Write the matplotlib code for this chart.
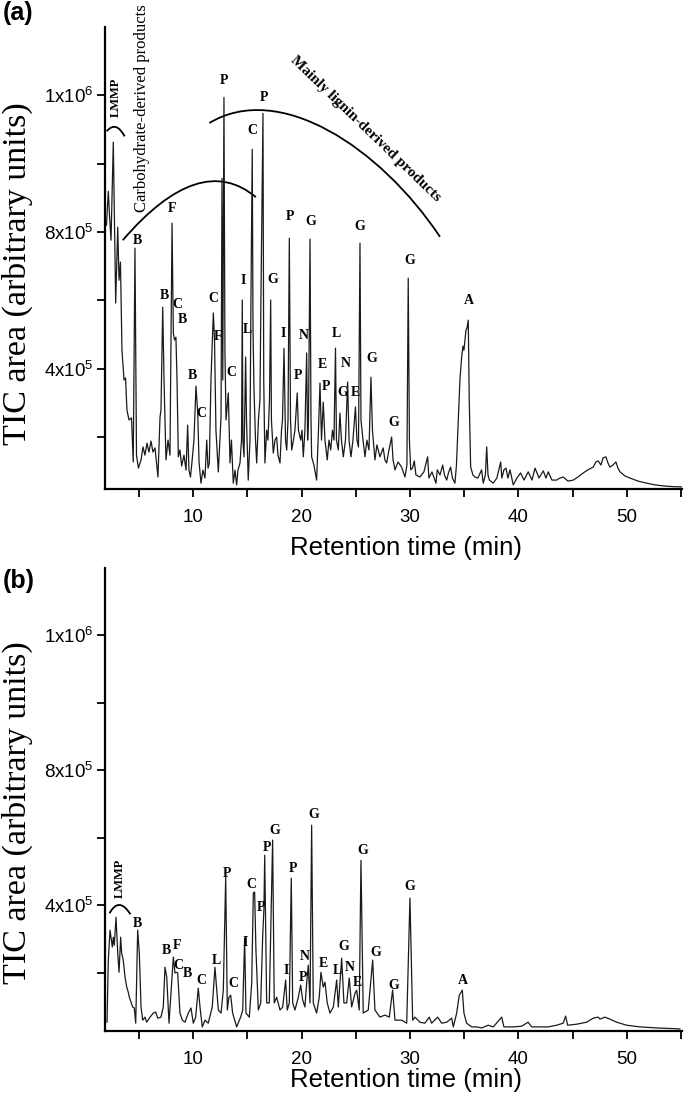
import numpy as np
import matplotlib
matplotlib.use("Agg")
import matplotlib.pyplot as plt
from matplotlib.path import Path
from matplotlib.patches import PathPatch

SANS = "Liberation Sans"
SERIF = "Liberation Serif"
plt.rcParams["font.family"] = [SANS, "DejaVu Sans"]
plt.rcParams["mathtext.fontset"] = "custom"
plt.rcParams["mathtext.rm"] = SANS
plt.rcParams["mathtext.default"] = "regular"

# ---------------- data (retention time in min, TIC area in units of 1e5) ----------------
top_time = [1.99, 2.16, 2.27, 2.41, 2.62, 2.84, 3.03, 3.15, 3.28, 3.42, 3.61, 3.75, 3.88, 4.07, 4.30, 4.46,
            4.62, 4.76, 4.94, 5.18, 5.36, 5.54, 5.73, 5.91, 6.10, 6.28, 6.47, 6.74, 6.93, 7.02, 7.18, 7.30,
            7.48, 7.67, 7.85, 8.04, 8.16, 8.27, 8.40, 8.50, 8.62, 8.77, 8.93, 9.14, 9.33, 9.48, 9.60, 9.74,
            9.88, 10.06, 10.25, 10.41, 10.53, 10.71, 10.89, 11.08, 11.24, 11.36, 11.48, 11.63, 11.85, 11.96,
            12.09, 12.31, 12.46, 12.56, 12.65, 12.72, 12.83, 12.92, 13.02, 13.23, 13.39, 13.52, 13.69, 13.85,
            14.00, 14.12, 14.31, 14.45, 14.52, 14.58, 14.68, 14.83, 14.91, 15.07, 15.23, 15.32, 15.44, 15.51,
            15.60, 15.74, 15.85, 16.01, 16.15, 16.24, 16.43, 16.50, 16.61, 16.77, 16.89, 17.03, 17.14, 17.21,
            17.38, 17.54, 17.69, 17.81, 18.00, 18.14, 18.23, 18.37, 18.51, 18.62, 18.74, 18.86, 18.97, 19.08,
            19.24, 19.38, 19.59, 19.70, 19.91, 20.03, 20.15, 20.30, 20.46, 20.55, 20.63, 20.77, 20.86, 20.92,
            21.13, 21.38, 21.55, 21.69, 21.83, 21.99, 22.15, 22.36, 22.52, 22.68, 22.84, 22.98, 23.12, 23.21,
            23.38, 23.53, 23.67, 23.84, 24.04, 24.24, 24.37, 24.55, 24.73, 24.96, 25.10, 25.24, 25.38, 25.47,
            25.66, 25.84, 26.02, 26.21, 26.39, 26.53, 26.76, 26.94, 27.22, 27.52, 27.68, 27.84, 28.05, 28.30,
            28.43, 28.61, 28.89, 29.22, 29.53, 29.71, 29.83, 29.94, 30.06, 30.22, 30.39, 30.54, 30.91, 31.28,
            31.62, 31.74, 32.02, 32.39, 32.51, 32.76, 33.01, 33.17, 33.38, 33.54, 33.74, 33.91, 34.14, 34.28,
            34.45, 34.60, 34.76, 34.88, 34.97, 35.16, 35.25, 35.37, 35.46, 35.59, 35.80, 35.99, 36.26, 36.60,
            36.75, 36.95, 37.07, 37.19, 37.32, 37.67, 38.01, 38.36, 38.47, 38.66, 38.85, 39.03, 39.22, 39.52,
            39.86, 40.20, 40.51, 40.90, 41.25, 41.53, 41.90, 42.29, 42.54, 42.75, 43.09, 43.52, 43.83, 44.13,
            44.57, 45.06, 45.49, 45.98, 46.41, 46.90, 47.15, 47.36, 47.61, 47.80, 48.07, 48.26, 48.44, 48.72,
            48.99, 49.18, 49.37, 49.83, 50.29, 51.03, 51.83, 52.59, 53.36, 54.16, 55.05]
top_signal_e5 = [8.20, 9.19, 8.49, 7.76, 10.63, 5.92, 8.14, 6.59, 7.12, 4.54, 3.67, 3.73, 2.79, 2.50, 2.56, 1.27,
                 7.53, 1.47, 1.09, 1.33, 1.71, 1.47, 1.82, 1.56, 1.88, 1.56, 1.68, 0.83, 2.58, 2.79, 5.80, 3.67,
                 1.33, 1.91, 1.47, 8.26, 5.04, 4.84, 4.92, 3.67, 1.42, 1.62, 1.15, 1.47, 1.03, 2.35, 1.03, 0.83,
                 1.27, 1.91, 3.49, 2.70, 1.27, 0.65, 1.03, 0.80, 1.91, 1.09, 1.24, 3.67, 5.63, 4.84,
                 2.20, 0.98, 1.91, 2.58, 9.57, 3.67, 11.94, 4.54, 2.50, 3.29, 1.24, 1.91, 0.65, 1.03,
                 0.60, 1.03, 1.24, 1.91, 6.01, 1.91, 1.42, 4.34, 2.50, 0.74, 1.91, 6.01, 10.42, 5.13,
                 3.43, 1.91, 1.24, 2.50, 3.08, 6.01, 11.47, 3.67, 1.24, 2.20, 1.91, 3.08, 6.01, 2.50,
                 1.53, 1.91, 2.00, 1.47, 1.24, 2.20, 2.50, 4.60, 1.91, 1.62, 2.50, 7.82, 2.50, 1.62,
                 1.91, 2.20, 3.29, 2.20, 1.91, 2.20, 1.42, 2.20, 4.46, 1.91, 2.50, 7.79, 2.50, 1.42,
                 1.18, 0.74, 2.20, 3.58, 1.91, 3.02, 1.91, 1.33, 1.91, 1.62, 2.20, 1.91, 4.60, 1.91,
                 1.62, 2.70, 1.91, 1.42, 1.91, 3.61, 1.91, 1.42, 1.91, 2.88, 1.91, 1.71, 7.67, 2.50,
                 1.91, 1.42, 1.91, 1.62, 3.75, 2.20, 1.33, 1.77, 1.42, 1.68, 1.33, 1.24, 1.62, 2.00,
                 1.33, 1.04, 1.27, 1.12, 0.83, 1.18, 6.65, 1.91, 1.04, 1.09, 1.30, 0.89, 0.83, 0.98,
                 1.42, 0.80, 0.98, 0.65, 1.04, 0.89, 1.18, 0.89, 0.74, 0.95, 1.12, 0.80, 0.65, 1.18,
                 2.50, 3.67, 4.34, 4.66, 4.54, 5.13, 5.19, 5.42, 3.08, 1.12, 0.89, 0.83, 0.80, 1.04,
                 0.65, 0.89, 1.71, 0.89, 0.74, 0.65, 0.80, 1.27, 0.80, 1.04, 1.09, 0.80, 1.04, 0.60,
                 0.80, 0.95, 0.74, 0.98, 0.74, 1.09, 0.80, 1.01, 0.80, 0.98, 0.74, 0.74, 0.80, 0.83,
                 0.71, 0.74, 0.83, 0.95, 1.04, 1.12, 1.27, 1.30, 1.18, 1.39, 1.42, 1.24, 1.12, 1.18,
                 1.27, 1.09, 0.98, 0.86, 0.80, 0.71, 0.65, 0.60, 0.57, 0.55, 0.54]

bottom_time = [2.04, 2.16, 2.32, 2.53, 2.62, 2.71, 2.87, 3.03, 3.15, 3.30, 3.39, 3.54, 3.70, 3.86, 4.00, 4.10,
               4.25, 4.41, 4.56, 4.69, 4.87, 5.02, 5.18, 5.33, 5.54, 5.70, 6.01, 6.31, 6.53, 6.72, 7.02, 7.23,
               7.39, 7.55, 7.76, 8.16, 8.31, 8.47, 8.56, 8.77, 8.99, 9.23, 9.54, 9.79, 10.00, 10.22, 10.46,
               10.62, 10.83, 11.08, 11.38, 11.75, 11.94, 12.00, 12.31, 12.56, 12.77, 12.99, 13.14, 13.29,
               13.45, 13.63, 14.00, 14.37, 14.56, 14.74, 14.86, 15.17, 15.39, 15.54, 15.66, 15.78, 16.00,
               16.22, 16.40, 16.52, 16.59, 16.77, 17.01, 17.32, 17.47, 17.69, 18.00, 18.25, 18.52, 18.67,
               18.86, 19.04, 19.17, 19.38, 19.69, 19.91, 20.09, 20.30, 20.46, 20.61, 20.77, 20.92, 21.07,
               21.38, 21.62, 21.78, 21.99, 22.15, 22.36, 22.61, 22.92, 23.23, 23.38, 23.69, 23.90, 24.15,
               24.39, 24.61, 24.92, 25.07, 25.31, 25.47, 25.68, 26.14, 26.55, 26.76, 27.22, 27.68, 28.08,
               28.39, 28.61, 29.22, 29.69, 29.99, 30.24, 30.45, 30.91, 31.37, 31.77, 31.99, 32.55, 32.92,
               33.38, 33.84, 33.99, 34.30, 34.54, 34.82, 34.97, 35.22, 35.68, 36.14, 36.61, 37.21, 37.68,
               38.45, 38.66, 39.52, 40.29, 40.90, 41.22, 41.98, 42.75, 43.52, 44.13, 44.35, 44.54, 45.37,
               46.29, 46.90, 47.36, 47.52, 47.98, 48.44, 49.06, 49.98, 51.21, 52.75, 54.90]
bottom_signal_e5 = [0.53, 2.37, 3.26, 2.76, 3.05, 2.81, 3.64, 2.58, 2.01, 3.05, 2.58, 2.37, 1.87, 1.57, 1.42, 1.27,
                    1.13, 0.98, 0.95, 0.50, 3.26, 2.58, 0.98, 0.59, 0.68, 0.53, 0.68, 0.80, 0.83, 0.65, 0.68, 0.98,
                    2.16, 1.87, 0.50, 2.46, 1.99, 2.01, 1.99, 0.80, 0.59, 0.53, 0.80, 0.95, 0.50, 0.68, 1.54,
                    0.98, 0.39, 0.59, 0.50, 0.98, 1.87, 2.16, 0.89, 0.80, 1.48, 4.83, 0.89, 1.27,
                    1.33, 0.80, 0.39, 0.68, 0.89, 3.02, 0.80, 0.68, 1.69, 4.36, 4.39, 2.67, 0.89,
                    1.10, 3.05, 3.91, 5.48, 1.10, 1.10, 5.93, 1.10, 1.27, 0.89, 0.98, 1.78, 0.89,
                    1.10, 4.80, 1.10, 0.89, 1.27, 1.63, 1.19, 0.98, 1.69, 2.22, 1.10, 6.37, 1.10,
                    0.80, 1.27, 2.01, 1.57, 1.72, 1.10, 0.80, 0.98, 1.78, 0.98, 2.43, 1.10, 1.10,
                    1.84, 0.98, 1.39, 1.48, 0.89, 5.33, 0.80, 0.89, 2.37, 0.89, 0.68, 0.74, 0.68,
                    1.48, 0.59, 0.59, 0.50, 4.21, 0.59, 0.68, 0.53, 0.50, 0.68, 0.50, 0.68, 0.50,
                    0.53, 0.65, 0.39, 0.80, 1.33, 1.48, 0.80, 0.50, 0.39, 0.39, 0.36, 0.44, 0.39,
                    0.68, 0.39, 0.39, 0.41, 0.53, 0.39, 0.39, 0.39, 0.44, 0.50, 0.71, 0.44, 0.47,
                    0.53, 0.65, 0.68, 0.62, 0.68, 0.62, 0.53, 0.44, 0.39, 0.36, 0.33]

# peak identification letters
top_peak_text = ["B", "F", "P", "C", "P", "P", "G", "G", "G", "B", "C", "B", "C", "F", "C", "B", "C",
                 "I", "L", "G", "I", "N", "P", "E", "L", "N", "P", "G", "E", "G", "G", "A"]
top_peak_t = [4.87, 8.01, 12.83, 15.44, 16.55, 18.92, 20.83, 25.38, 29.93, 7.32, 8.56, 9.02, 11.85, 12.31,
              13.54, 9.94, 10.77, 14.61, 14.98, 17.29, 18.30, 20.15, 19.69, 21.90, 23.23, 24.09, 22.24,
              23.75, 24.92, 26.46, 28.45, 35.46]
top_peak_v_e5 = [7.76, 8.70, 12.42, 10.98, 11.93, 8.44, 8.30, 8.15, 7.18, 6.15, 5.88, 5.44, 6.06, 4.95,
                 3.88, 3.81, 2.69, 6.59, 5.15, 6.61, 5.03, 4.98, 3.81, 4.11, 5.03, 4.15, 3.49, 3.30, 3.30,
                 4.30, 2.43, 6.01]

bottom_peak_text = ["B", "B", "F", "C", "B", "C", "L", "P", "C", "I", "C", "P", "P", "G", "P", "I", "P",
                    "N", "G", "E", "L", "G", "N", "E", "G", "G", "G", "G", "A"]
bottom_peak_t = [4.87, 7.55, 8.52, 8.62, 9.45, 10.77, 12.09, 13.08, 13.69, 14.83, 15.32, 16.22, 16.77,
                 17.56, 19.17, 18.62, 20.15, 20.30, 21.13, 21.99, 23.28, 23.90, 24.40, 25.12, 25.63,
                 26.83, 28.54, 29.99, 34.91]
bottom_peak_v_e5 = [3.46, 2.67, 2.81, 2.22, 1.96, 1.78, 2.35, 4.94, 1.68, 2.88, 4.62, 3.93, 5.71, 6.22,
                    5.09, 2.07, 1.85, 2.47, 6.70, 2.27, 2.07, 2.76, 2.14, 1.70, 5.63, 2.60, 1.61, 4.54, 1.78]

x_major = [10, 20, 30, 40, 50]
x_minor = [5, 15, 25, 35, 45, 55]
y_tick_values = [2e5, 4e5, 6e5, 8e5, 1.0e6, 1.2e6]
y_tick_labels = ["", "4x10$^5$", "", "8x10$^5$", "", "1x10$^6$"]

E5 = 1e5
LINE = "#1a1a1a"


def style(ax, ybottom):
    ax.set_xlim(1.9, 55.05)
    ax.set_ylim(ybottom * E5, 14 * E5)
    for s in ("top", "right"):
        ax.spines[s].set_visible(False)
    for s in ("left", "bottom"):
        ax.spines[s].set_linewidth(1.6)
    ax.set_xticks(x_major)
    ax.set_xticks(x_minor, minor=True)
    ax.set_yticks(y_tick_values)
    ax.set_yticklabels(y_tick_labels)
    ax.tick_params(axis="both", which="both", direction="out", length=5.5, width=1.3,
                   labelsize=13.5)
    ax.tick_params(axis="x", which="major", pad=9)
    ax.tick_params(axis="y", pad=3)
    ax.patch.set_alpha(0)


def bezier(ax, pts, lw=1.3):
    codes = [Path.MOVETO] + ([Path.CURVE3] * 2 if len(pts) == 3 else [Path.CURVE4] * 3)
    verts = [(t, v * E5) for t, v in pts]
    ax.add_patch(PathPatch(Path(verts, codes), fill=False, lw=lw, ec="black"))


fig = plt.figure(figsize=(6.85, 11.07), dpi=100)
ax_a = fig.add_axes([0.154, 0.5583, 0.841, 0.4173])
ax_b = fig.add_axes([0.154, 0.0687, 0.841, 0.4182])

ax_a.plot(top_time, np.array(top_signal_e5) * E5, color=LINE, lw=0.9)
ax_b.plot(bottom_time, np.array(bottom_signal_e5) * E5, color=LINE, lw=0.9)
style(ax_a, 0.48)
style(ax_b, 0.27)

lbl_kw = dict(ha="center", va="center", fontsize=10, fontweight="bold", family=SERIF)
for s, t, v in zip(top_peak_text, top_peak_t, top_peak_v_e5):
    ax_a.text(t, v * E5, s, **lbl_kw)
for s, t, v in zip(bottom_peak_text, bottom_peak_t, bottom_peak_v_e5):
    ax_b.text(t, v * E5, s, **lbl_kw)

# annotations panel (a)
ax_a.text(2.88, 11.95 * E5, "LMMP", rotation=90, **dict(lbl_kw, fontsize=9))
bezier(ax_a, [(2.01, 10.95), (2.88, 11.27), (3.67, 10.80)])
ax_a.text(5.31, 11.62 * E5, "Carbohydrate-derived products", rotation=90, ha="center", va="center",
          fontsize=12, family=SERIF, clip_on=False)
bezier(ax_a, [(3.49, 7.76), (10.62, 10.39), (15.78, 9.02)])
bezier(ax_a, [(11.48, 11.19), (17.93, 12.42), (27.22, 10.49), (32.76, 7.86)])
ax_a.text(25.89, 11.02 * E5, "Mainly lignin-derived products", rotation=-44, rotation_mode="anchor",
          ha="center", va="center", fontsize=11, fontweight="bold", family=SERIF)

# annotations panel (b)
ax_b.text(3.24, 4.80 * E5, "LMMP", rotation=90, **dict(lbl_kw, fontsize=9))
bezier(ax_b, [(2.27, 3.76), (3.14, 4.27), (4.20, 3.73)])

# axis titles
for yc in (0.753, 0.266):
    fig.text(0.026, yc, "TIC area (arbitrary units)", rotation=90, ha="center", va="center",
             fontsize=24.5, family=SERIF)
fig.text(0.592, 0.505, "Retention time (min)", ha="center", va="center", fontsize=18.5)
fig.text(0.592, 0.0245, "Retention time (min)", ha="center", va="center", fontsize=18.5)
fig.text(0.004, 0.999, "(a)", ha="left", va="top", fontsize=18, fontweight="bold")
fig.text(0.004, 0.486, "(b)", ha="left", va="top", fontsize=18, fontweight="bold")

fig.savefig("out.png", dpi=100, facecolor="white")
